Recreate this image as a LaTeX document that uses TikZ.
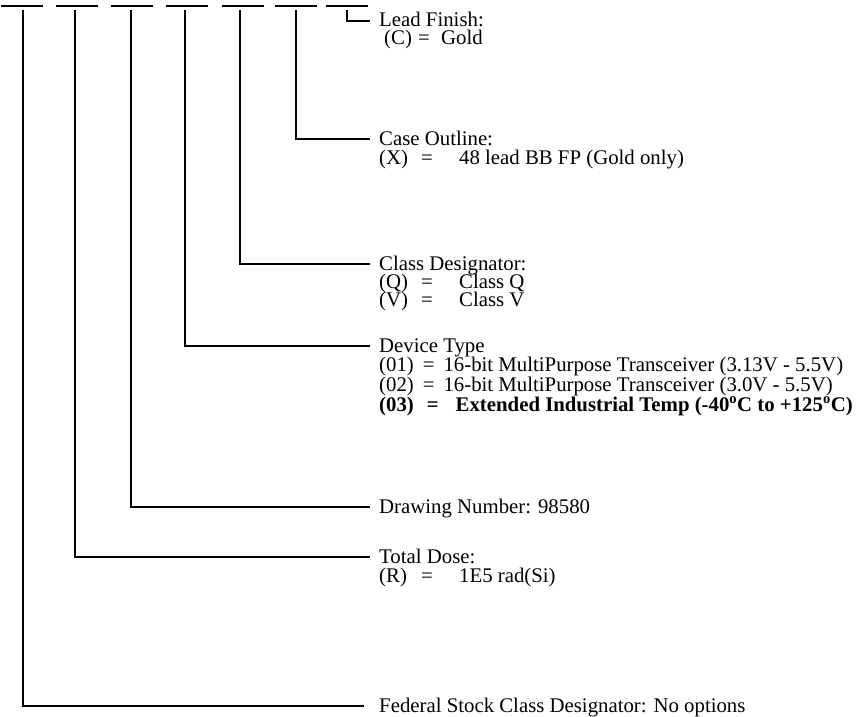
\documentclass[tikz,border=0pt]{standalone}
\usepackage{fontspec}
\setmainfont{Liberation Serif}
\usetikzlibrary{positioning}

\newcommand{\optrow}[2]{\makebox[42pt][l]{#1}\makebox[38pt][l]{=}#2}

\begin{document}
\begin{tikzpicture}[x=1pt,y=-1pt,
	wire/.style={line width=1.8pt},
	title/.style={anchor=base west, inner sep=0pt, text height=15pt, text depth=3pt, font=\fontsize{20.8}{19}\selectfont},
	optline/.style={anchor=base west, inner sep=0pt, font=\fontsize{20.8}{19}\selectfont}]
	\useasboundingbox (0,0) rectangle (868,717);
%	the seven blanks of the part number
	\foreach \x in {22,77,132,187,243,296,347}
		\draw [wire] (\x-21,6) -- (\x+21,6);
	\coordinate (f1) at (23,10);
	\coordinate (f2) at (75,10);
	\coordinate (f3) at (131,10);
	\coordinate (f4) at (185,10);
	\coordinate (f5) at (240,10);
	\coordinate (f6) at (296,10);
	\coordinate (f7) at (347,10);
%	field descriptions
	\node [title] (lead) at (379,27) {Lead Finish:};
	\node [optline] (leadC) at ([yshift=-18pt]lead.base west) {\hspace*{5pt}\makebox[34pt][l]{(C)}\makebox[23pt][l]{=}Gold};
	\node [title] (case) at (379,145) {Case Outline:};
	\node [optline] (caseX) at ([yshift=-19pt]case.base west) {\optrow{(X)}{48 lead BB FP (Gold only)}};
	\node [title] (class) at (379,270) {Class Designator:};
	\node [optline] (classQ) at ([yshift=-18pt]class.base west) {\optrow{(Q)}{Class Q}};
	\node [optline] (classV) at ([yshift=-36pt]class.base west) {\optrow{(V)}{Class V}};
	\node [title] (dev) at (379,352) {Device Type};
	\node [optline] (dev1) at ([yshift=-19pt]dev.base west) {(01)\hspace{9pt}=\hspace{9pt}16-bit MultiPurpose Transceiver (3.13V - 5.5V)};
	\node [optline] (dev2) at ([yshift=-39pt]dev.base west) {(02)\hspace{9pt}=\hspace{9pt}16-bit MultiPurpose Transceiver (3.0V - 5.5V)};
	\node [optline] (dev3) at ([yshift=-59pt]dev.base west) {\bfseries (03)\hspace{13pt}=\hspace{17pt}Extended Industrial Temp (-40\textsuperscript{o}C to +125\textsuperscript{o}C)};
	\node [title] (dwg) at (379,513) {Drawing Number: 98580};
	\node [title] (dose) at (379,563) {Total Dose:};
	\node [optline] (doseR) at ([yshift=-19pt]dose.base west) {\optrow{(R)}{1E5 rad(Si)}};
	\node [title] (fed) at (379,712) {Federal Stock Class Designator: No options};
%	leaders
	\draw [wire] (f7) |- ([xshift=-9pt]lead.west);
	\draw [wire] (f6) |- ([xshift=-9pt]case.west);
	\draw [wire] (f5) |- ([xshift=-9pt]class.west);
	\draw [wire] (f4) |- ([xshift=-9pt]dev.west);
	\draw [wire] (f3) |- ([xshift=-9pt]dwg.west);
	\draw [wire] (f2) |- ([xshift=-9pt]dose.west);
	\draw [wire] (f1) |- ([xshift=-15pt]fed.west);
\end{tikzpicture}
\end{document}
